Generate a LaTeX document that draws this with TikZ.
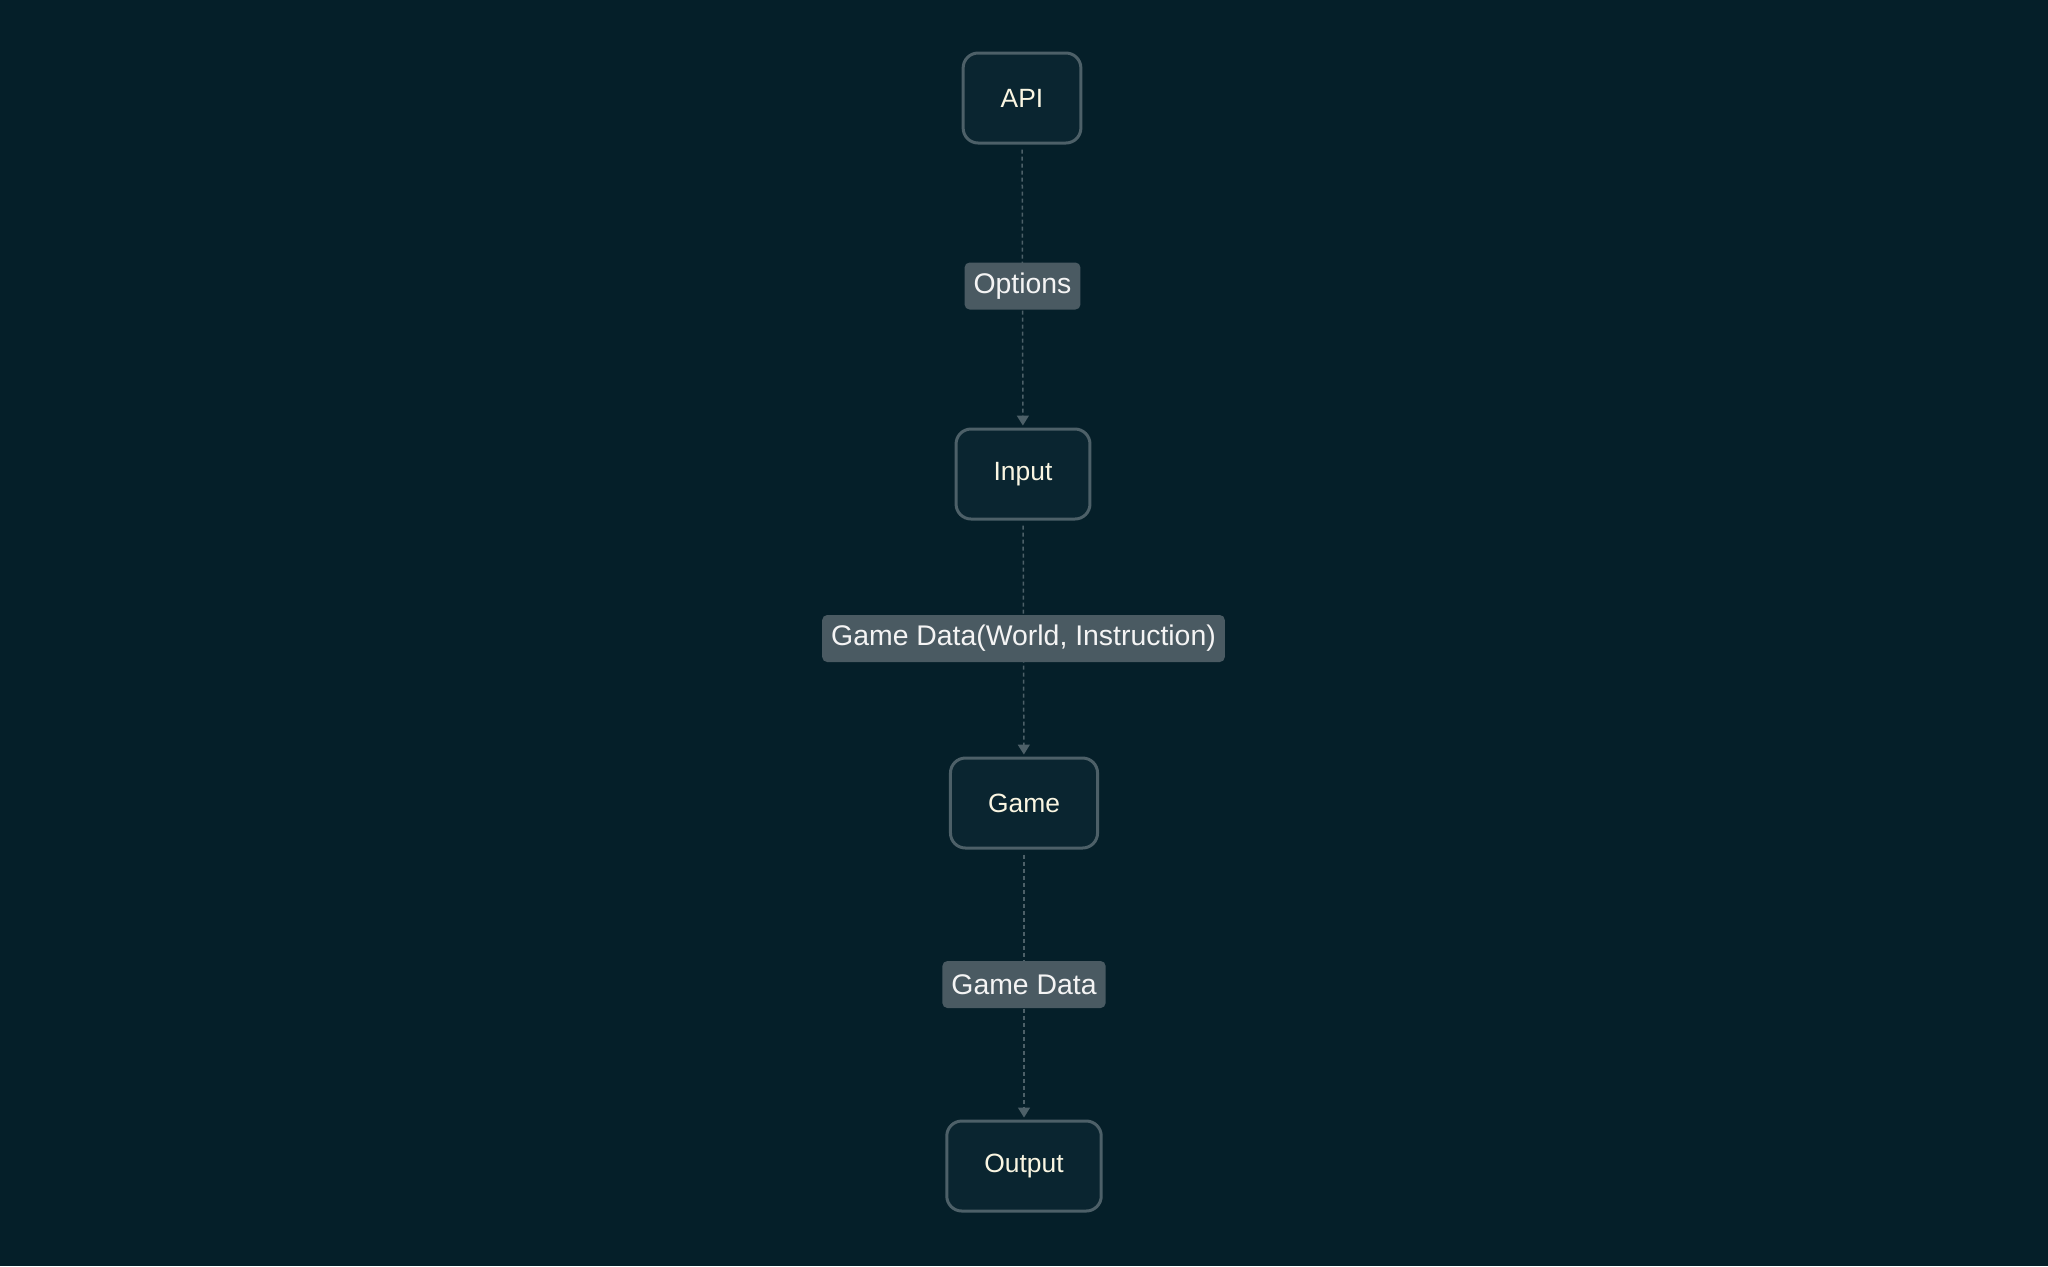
\documentclass[tikz,border=0pt]{standalone}
\usepackage{fontspec}
\setmainfont{Liberation Sans}
\usetikzlibrary{arrows.meta}
\definecolor{bgc}{HTML}{051F29}
\definecolor{nodefill}{HTML}{0A2530}
\definecolor{nodeline}{HTML}{4D6068}
\definecolor{lblfill}{HTML}{4A5A62}
\definecolor{nodetext}{HTML}{FAF6E2}
\definecolor{lbltext}{HTML}{F4F4F4}
\tikzset{
  stepbox/.style={draw=nodeline, line width=1.5pt, fill=nodefill, rounded corners=7.5pt,
    minimum height=45pt, inner xsep=18.8pt, text=nodetext, font=\fontsize{13.2}{15}\selectfont},
  lbl/.style={fill=lblfill, rounded corners=2.5pt, text=lbltext, minimum height=23.5pt,
    inner xsep=4.5pt, font=\fontsize{14.2}{17}\selectfont},
  flow/.style={draw=nodeline, line width=0.75pt, dash pattern=on 2pt off 1.5pt,
    -{Triangle[width=6pt,length=5pt]}, shorten <=2.5pt, shorten >=1pt}
}
\begin{document}
\begin{tikzpicture}[x=0.5pt,y=-0.5pt]
\fill[bgc] (0,0) rectangle (2048,1266);
\useasboundingbox (0,0) rectangle (2048,1266);
\node[stepbox] (api) at (1022,98) {API};
\node[stepbox] (input) at (1023,474) {Input};
\node[stepbox] (game) at (1024,803) {Game};
\node[stepbox] (output) at (1024,1166) {Output};
\draw[flow] (api) -- node[lbl] {Options} (input);
\draw[flow] (input) -- node[lbl] {Game Data(World, Instruction)} (game);
\draw[flow] (game) -- node[lbl] {Game Data} (output);
\end{tikzpicture}
\end{document}
